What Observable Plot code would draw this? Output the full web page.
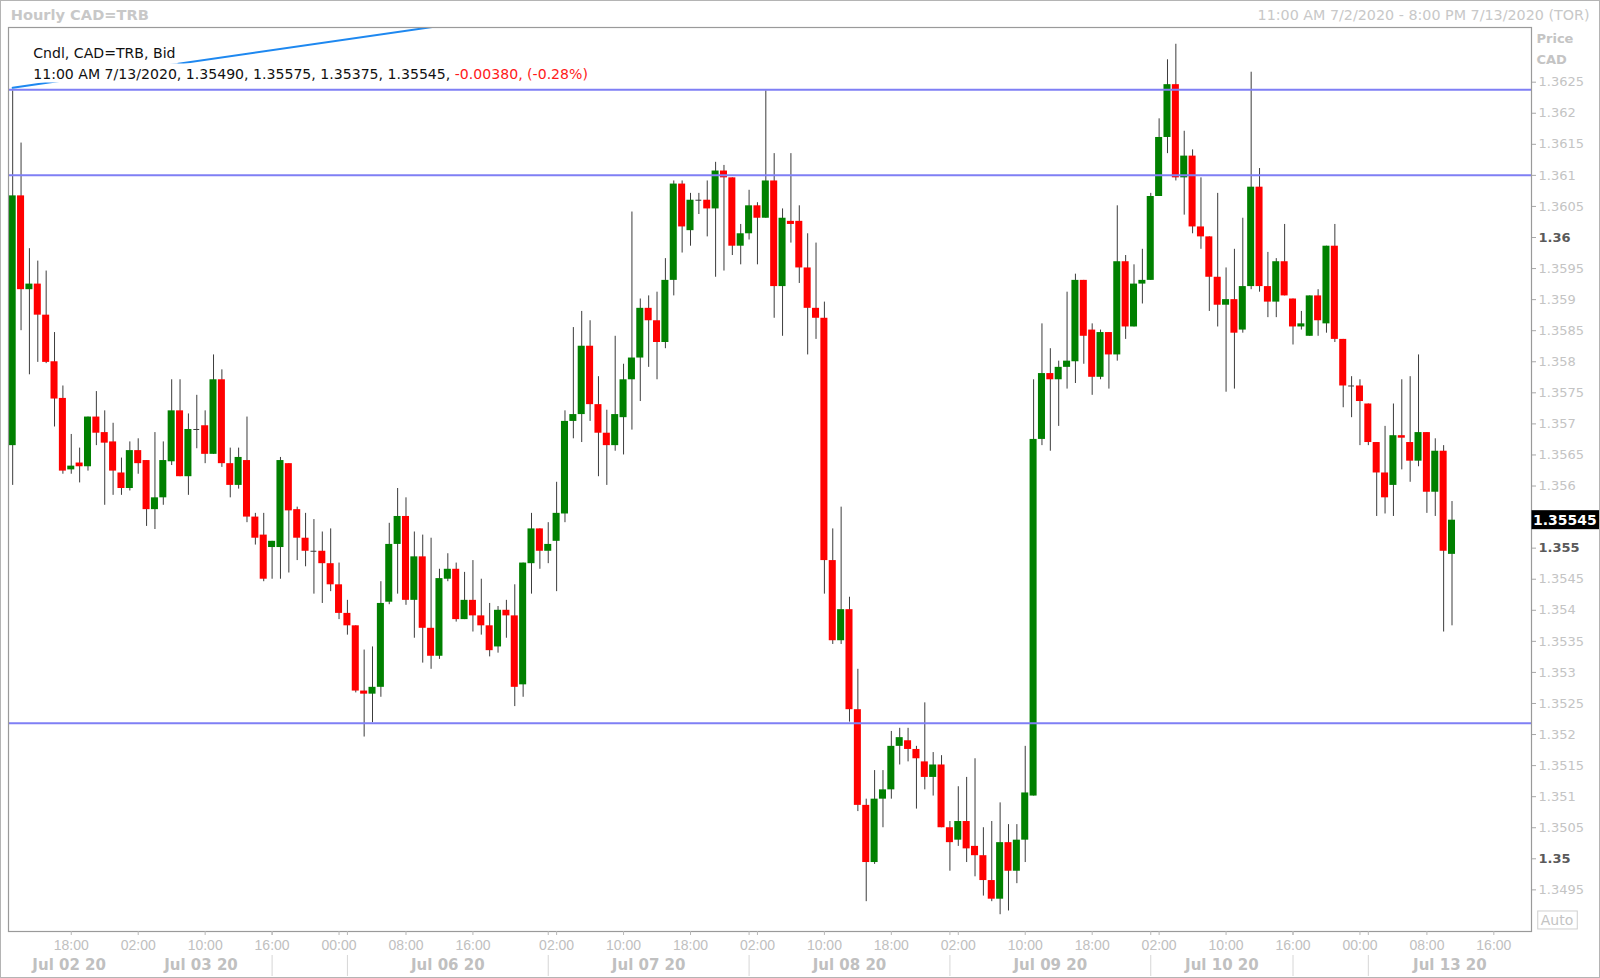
<!DOCTYPE html>
<html>
<head>
<meta charset="utf-8">
<script src="https://cdn.jsdelivr.net/npm/d3@7"></script>
<script src="https://cdn.jsdelivr.net/npm/@observablehq/plot@0.6"></script>
<style>
html, body { margin: 0; padding: 0; background: #fff; }
#wrap { position: relative; width: 1600px; height: 978px; overflow: hidden; }
#border { position: absolute; left: 0; top: 0; width: 1600px; height: 978px; box-sizing: border-box; border: 1px solid #b4b4b4; pointer-events: none; }
</style>
</head>
<body>
<div id="wrap"><div id="chart"></div><div id="border"></div></div>
<script>
// Hourly CAD=TRB candles, index 0 = 11:00 7/2/2020 ... index 172 = 11:00 7/13/2020
const opens = [
1.35665,1.36067,1.35916,1.35925,1.35875,1.35800,1.35741,1.35626,1.35637,1.35631,
1.35711,1.35686,1.35671,1.35621,1.35596,1.35657,1.35641,1.35562,1.35581,1.35639,
1.35721,1.35615,1.35691,1.35697,1.35651,1.35771,1.35636,1.35601,1.35641,1.35550,
1.35521,1.35501,1.35501,1.35636,1.35562,1.35516,1.35495,1.35495,1.35475,1.35441,
1.35395,1.35375,1.35270,1.35265,1.35276,1.35413,1.35506,1.35551,1.35416,1.35486,
1.35371,1.35326,1.35450,1.35466,1.35385,1.35416,1.35391,1.35375,1.35341,1.35400,
1.35391,1.35280,1.35475,1.35531,1.35495,1.35511,1.35555,1.35704,1.35715,1.35825,
1.35731,1.35685,1.35665,1.35710,1.35771,1.35806,1.35886,1.35866,1.35831,1.35931,
1.36086,1.36011,1.36060,1.36060,1.36046,1.36107,1.36096,1.35986,1.36006,1.36051,
1.36031,1.36091,1.35921,1.36026,1.36026,1.35951,1.35886,1.35870,1.35480,1.35351,
1.35401,1.35240,1.35086,1.34994,1.35096,1.35111,1.35181,1.35190,1.35176,1.35156,
1.35131,1.35151,1.35050,1.35030,1.35060,1.35020,1.35005,1.34965,1.34935,1.35026,
1.34980,1.35030,1.35101,1.35675,1.35781,1.35771,1.35791,1.35800,1.35931,1.35851,
1.35775,1.35847,1.35811,1.35961,1.35856,1.35925,1.35931,1.36066,1.36161,1.36246,
1.36096,1.36131,1.36017,1.36001,1.35936,1.35891,1.35900,1.35851,1.35921,1.36081,
1.35921,1.35896,1.35961,1.35901,1.35856,1.35841,1.35906,1.35861,1.35986,1.35836,
1.35761,1.35761,1.35732,1.35670,1.35621,1.35601,1.35681,1.35670,1.35640,1.35686,
1.35590,1.35656,1.35490];
const highs = [
1.36236,1.36152,1.35982,1.35962,1.35946,1.35847,1.35761,1.35683,1.35661,1.35711,
1.35752,1.35721,1.35701,1.35645,1.35671,1.35676,1.35641,1.35686,1.35671,1.35771,
1.35771,1.35716,1.35746,1.35721,1.35811,1.35787,1.35661,1.35661,1.35711,1.35556,
1.35556,1.35511,1.35646,1.35636,1.35566,1.35556,1.35546,1.35526,1.35531,1.35476,
1.35416,1.35375,1.35336,1.35341,1.35446,1.35540,1.35596,1.35581,1.35526,1.35521,
1.35516,1.35466,1.35491,1.35476,1.35461,1.35480,1.35450,1.35411,1.35406,1.35416,
1.35441,1.35476,1.35556,1.35531,1.35541,1.35606,1.35721,1.35855,1.35881,1.35866,
1.35776,1.35722,1.35841,1.35796,1.36041,1.35901,1.35906,1.35912,1.35966,1.36091,
1.36091,1.36071,1.36071,1.36091,1.36121,1.36116,1.36096,1.36021,1.36076,1.36056,
1.36236,1.36135,1.36046,1.36135,1.36051,1.36006,1.35991,1.35896,1.35531,1.35566,
1.35421,1.35305,1.35096,1.35142,1.35142,1.35205,1.35210,1.35210,1.35181,1.35251,
1.35171,1.35166,1.35060,1.35116,1.35131,1.35161,1.35050,1.35060,1.35090,1.35055,
1.35055,1.35181,1.35771,1.35861,1.35821,1.35801,1.35912,1.35941,1.35931,1.35861,
1.35851,1.35847,1.36051,1.35971,1.35956,1.35981,1.36071,1.36191,1.36286,1.36311,
1.36171,1.36141,1.36096,1.36001,1.36071,1.35951,1.35981,1.36031,1.36266,1.36111,
1.35976,1.35966,1.36021,1.35901,1.35881,1.35906,1.35916,1.35986,1.36021,1.35836,
1.35776,1.35771,1.35732,1.35670,1.35696,1.35732,1.35771,1.35776,1.35811,1.35686,
1.35676,1.35665,1.35575];
const lows = [
1.35601,1.35850,1.35779,1.35799,1.35797,1.35695,1.35619,1.35619,1.35605,1.35624,
1.35665,1.35569,1.35585,1.35585,1.35592,1.35619,1.35535,1.35530,1.35569,1.35633,
1.35615,1.35585,1.35660,1.35636,1.35651,1.35630,1.35581,1.35595,1.35541,1.35505,
1.35446,1.35450,1.35450,1.35460,1.35480,1.35470,1.35426,1.35411,1.35430,1.35385,
1.35360,1.35267,1.35196,1.35219,1.35260,1.35409,1.35426,1.35408,1.35355,1.35315,
1.35305,1.35321,1.35446,1.35381,1.35385,1.35365,1.35360,1.35325,1.35331,1.35355,
1.35245,1.35260,1.35426,1.35466,1.35475,1.35430,1.35541,1.35676,1.35670,1.35704,
1.35615,1.35601,1.35656,1.35650,1.35690,1.35736,1.35791,1.35771,1.35821,1.35906,
1.35975,1.35986,1.36037,1.36001,1.35936,1.35946,1.35971,1.35956,1.35996,1.35956,
1.36031,1.35870,1.35841,1.35991,1.35926,1.35811,1.35836,1.35426,1.35345,1.35345,
1.35220,1.35076,1.34931,1.34991,1.35050,1.35096,1.35151,1.35156,1.35080,1.35111,
1.35101,1.35050,1.34980,1.35020,1.34994,1.34971,1.34940,1.34931,1.34910,1.34916,
1.34960,1.34994,1.35101,1.35665,1.35656,1.35696,1.35756,1.35765,1.35796,1.35746,
1.35771,1.35756,1.35801,1.35836,1.35856,1.35893,1.35931,1.36066,1.36135,1.36091,
1.36036,1.36006,1.35981,1.35881,1.35856,1.35751,1.35756,1.35846,1.35916,1.35912,
1.35871,1.35871,1.35906,1.35827,1.35851,1.35841,1.35841,1.35846,1.35831,1.35726,
1.35710,1.35665,1.35665,1.35551,1.35555,1.35551,1.35626,1.35606,1.35631,1.35556,
1.35551,1.35365,1.35375];
const closes = [
1.36067,1.35916,1.35925,1.35875,1.35799,1.35740,1.35624,1.35632,1.35631,1.35711,
1.35685,1.35669,1.35624,1.35596,1.35657,1.35636,1.35562,1.35581,1.35641,1.35721,
1.35615,1.35691,1.35691,1.35651,1.35771,1.35636,1.35601,1.35646,1.35550,1.35516,
1.35450,1.35511,1.35641,1.35560,1.35516,1.35495,1.35495,1.35475,1.35441,1.35395,
1.35375,1.35270,1.35265,1.35276,1.35411,1.35506,1.35551,1.35416,1.35486,1.35371,
1.35326,1.35451,1.35466,1.35385,1.35416,1.35391,1.35375,1.35335,1.35400,1.35391,
1.35276,1.35476,1.35531,1.35495,1.35506,1.35556,1.35704,1.35715,1.35825,1.35731,
1.35685,1.35665,1.35715,1.35771,1.35806,1.35886,1.35866,1.35831,1.35931,1.36086,
1.36017,1.36060,1.36060,1.36046,1.36107,1.36096,1.35986,1.36006,1.36051,1.36031,
1.36091,1.35921,1.36031,1.36021,1.35951,1.35886,1.35870,1.35480,1.35351,1.35401,
1.35240,1.35086,1.34994,1.35096,1.35111,1.35181,1.35195,1.35176,1.35161,1.35131,
1.35151,1.35050,1.35026,1.35060,1.35016,1.35005,1.34965,1.34935,1.35026,1.34980,
1.35030,1.35106,1.35675,1.35781,1.35771,1.35791,1.35801,1.35931,1.35841,1.35775,
1.35847,1.35811,1.35961,1.35856,1.35925,1.35931,1.36066,1.36161,1.36246,1.36096,
1.36131,1.36017,1.36001,1.35936,1.35891,1.35900,1.35846,1.35921,1.36081,1.35921,
1.35896,1.35961,1.35906,1.35856,1.35861,1.35906,1.35866,1.35986,1.35836,1.35761,
1.35761,1.35736,1.35670,1.35621,1.35581,1.35681,1.35677,1.35640,1.35686,1.35590,
1.35656,1.35495,1.35545];

// user-drawn horizontal levels and trend line
const levelLines = [1.36238, 1.36100, 1.35218];
const trendLine = [{i: 0, p: 1.36241}, {i: 60, p: 1.36358}];

// time axis (candle index positions)
const timeTickIdx = [7, 15, 23, 31, 39, 47, 55, 65, 73, 81, 89, 97, 105, 113, 121, 129, 137, 145, 153, 161, 169, 177];
const timeTickLabels = ["18:00","02:00","10:00","16:00","00:00","08:00","16:00","02:00","10:00","18:00","02:00","10:00","18:00","02:00","10:00","18:00","02:00","10:00","16:00","00:00","08:00","16:00"];
const daySepIdx = [31, 40, 64, 88, 112, 136, 153, 162];
const dateLabelIdx = [6.75, 22.5, 52, 76, 100, 124, 144.5, 171.75];
const dateLabels = ["Jul 02 20","Jul 03 20","Jul 06 20","Jul 07 20","Jul 08 20","Jul 09 20","Jul 10 20","Jul 13 20"];

// price axis
const priceTicks = [1.3495,1.3505,1.351,1.3515,1.352,1.3525,1.353,1.3535,1.354,1.3545,1.356,1.3565,1.357,1.3575,1.358,1.3585,1.359,1.3595,1.3605,1.361,1.3615,1.362,1.3625];
const boldPriceTicks = [1.35, 1.355, 1.36];

const lastBar = {time: "11:00 AM 7/13/2020", open: 1.35490, high: 1.35575, low: 1.35375, close: 1.35545, change: -0.00380, pct: -0.28};
const titleText = "Hourly CAD=TRB";
const rangeText = "11:00 AM 7/2/2020 - 8:00 PM 7/13/2020 (TOR)";
const legend1 = "Cndl, CAD=TRB, Bid";
const legend2 = `${lastBar.time}, ${lastBar.open.toFixed(5)}, ${lastBar.high.toFixed(5)}, ${lastBar.low.toFixed(5)}, ${lastBar.close.toFixed(5)}, `;
const legend2red = `${lastBar.change.toFixed(5)}, (${lastBar.pct.toFixed(2)}%)`;

const candles = opens.map((o, i) => ({i, open: o, high: highs[i], low: lows[i], close: closes[i]}));
const bodies = candles.filter(d => d.open !== d.close);
const dojis = candles.filter(d => d.open === d.close);

const timeMap = new Map(timeTickIdx.map((d, k) => [d, timeTickLabels[k]]));
const dateMap = new Map(dateLabelIdx.map((d, k) => [d, dateLabels[k]]));
const fmtPrice = v => String(+v.toFixed(4));

const LEG_FONT = 14.1;
const ctx = document.createElement("canvas").getContext("2d");
ctx.font = `${LEG_FONT}px 'DejaVu Sans'`;
const legend2Width = ctx.measureText(legend2).width;
const LEG_DX = 24.7;

const chart = Plot.plot({
  width: 1600,
  height: 978,
  marginLeft: 8,
  marginRight: 69,
  marginTop: 27,
  marginBottom: 47,
  x: {domain: [-0.5, 181.5], label: null},
  y: {domain: [1.34883, 1.36338], label: null},
  style: {fontFamily: "DejaVu Sans", fontSize: "13px", background: "white", color: "#000", overflow: "visible"},
  marks: [
    // candles
    Plot.ruleX(candles, {x: "i", y1: "low", y2: "high", stroke: "#3c3c3c", strokeWidth: 1}),
    Plot.rect(bodies, {x1: d => d.i - 0.42, x2: d => d.i + 0.42, y1: "open", y2: "close",
      fill: d => d.close > d.open ? "#008000" : "#ff0000"}),
    Plot.ruleY(dojis, {y: "open", x1: d => d.i - 0.35, x2: d => d.i + 0.35, stroke: "#3c3c3c", strokeWidth: 1}),
    // drawings
    Plot.ruleY(levelLines, {stroke: "#7f7ff5", strokeWidth: 2}),
    Plot.line(trendLine, {x: "i", y: "p", stroke: "#1e88f0", strokeWidth: 2, clip: true}),
    Plot.frame({stroke: "#9a9a9a", strokeWidth: 1.2}),
    // legend in the plot
    Plot.text([legend1], {text: d => d, frameAnchor: "top-left", dx: LEG_DX, dy: 26, textAnchor: "start", lineAnchor: "middle", fontSize: LEG_FONT, fill: "#111"}),
    Plot.text([legend2], {text: d => d, frameAnchor: "top-left", dx: LEG_DX, dy: 47, textAnchor: "start", lineAnchor: "middle", fontSize: LEG_FONT, fill: "#111"}),
    Plot.text([legend2red], {text: d => d, frameAnchor: "top-left", dx: LEG_DX + legend2Width, dy: 47, textAnchor: "start", lineAnchor: "middle", fontSize: LEG_FONT, fill: "#ff1a1a"}),
    // header
    Plot.text([titleText], {text: d => d, frameAnchor: "top-left", dx: 2.2, dy: -12, textAnchor: "start", lineAnchor: "middle", fontSize: 14.6, fontWeight: "bold", fill: "#c8c8c8"}),
    Plot.text([rangeText], {text: d => d, frameAnchor: "top-right", dx: 58, dy: -12, textAnchor: "end", lineAnchor: "middle", fontSize: 14.3, fill: "#c8c8c8"}),
    // price axis
    Plot.axisY(priceTicks, {anchor: "right", tickSize: 4, tickPadding: 3, tickFormat: fmtPrice, fill: "#c4c4c4", stroke: "#a8a8a8", fontSize: 13, label: null}),
    Plot.axisY(boldPriceTicks, {anchor: "right", tickSize: 4, tickPadding: 3, tickFormat: fmtPrice, fill: "#5a5a5a", stroke: "#a8a8a8", fontSize: 13, fontWeight: "bold", label: null}),
    Plot.text(["Price"], {text: d => d, frameAnchor: "top-right", dx: 5, dy: 11.5, textAnchor: "start", lineAnchor: "middle", fontSize: 13, fontWeight: "bold", fill: "#c4c4c4"}),
    Plot.text(["CAD"], {text: d => d, frameAnchor: "top-right", dx: 5, dy: 32.5, textAnchor: "start", lineAnchor: "middle", fontSize: 13, fontWeight: "bold", fill: "#c4c4c4"}),
    Plot.text([lastBar.close], {y: d => d, text: d => d.toFixed(5), frameAnchor: "right", dx: 1.5, textAnchor: "start", lineAnchor: "middle", fontSize: 14, fontWeight: "bold", fill: "white"}),
    Plot.text(["Auto"], {text: d => d, frameAnchor: "bottom-right", dx: 25.5, dy: -11, textAnchor: "middle", lineAnchor: "middle", fontSize: 14, fill: "#c4c4c4"}),
    // time axis
    Plot.axisX(timeTickIdx, {anchor: "bottom", tickSize: 4, tickPadding: 5, tickFormat: d => timeMap.get(d), fill: "#c0c0c0", stroke: "#b8b8b8", fontSize: 14, fontFamily: "Liberation Sans", label: null}),
    Plot.axisX(daySepIdx, {anchor: "bottom", tickSize: 4, fill: "none", stroke: "#b8b8b8", label: null}),
    Plot.axisX(daySepIdx, {anchor: "bottom", tickSize: 21, dy: 24, fill: "none", stroke: "#d6d6d6", label: null}),
    Plot.axisX(dateLabelIdx, {anchor: "bottom", tickSize: 0, tickPadding: 28, tickFormat: d => dateMap.get(d), fill: "#c0c0c0", fontSize: 15, fontWeight: "bold", label: null})
  ]
});

document.getElementById("chart").appendChild(chart);

// opaque boxes behind texts (legend lines, last-price tag, "Auto")
function boxFor(txt, fill, stroke, padL, padR, up, down) {
  const el = Array.from(chart.querySelectorAll("text")).find(t => t.textContent === txt);
  if (!el) return;
  const bb = el.getBBox();
  const cy = bb.y + bb.height / 2;
  const r = document.createElementNS("http://www.w3.org/2000/svg", "rect");
  r.setAttribute("x", bb.x - padL);
  r.setAttribute("width", bb.width + padL + padR);
  r.setAttribute("y", cy - up);
  r.setAttribute("height", up + down);
  r.setAttribute("fill", fill);
  if (stroke) r.setAttribute("stroke", stroke);
  const tr = el.getAttribute("transform");
  if (tr) r.setAttribute("transform", tr);
  el.parentNode.insertBefore(r, el);
}
boxFor(legend1, "white", null, 3, 2, 11, 10.5);
boxFor(legend2, "white", null, 3, 0, 10.5, 8.5);
boxFor(legend2red, "white", null, 0, 3, 10.5, 8.5);
boxFor(lastBar.close.toFixed(5), "#000", null, 1.5, 2.5, 9.5, 9.5);
boxFor("Auto", "white", "#cfcfcf", 3, 4, 9, 9);
</script>
</body>
</html>
